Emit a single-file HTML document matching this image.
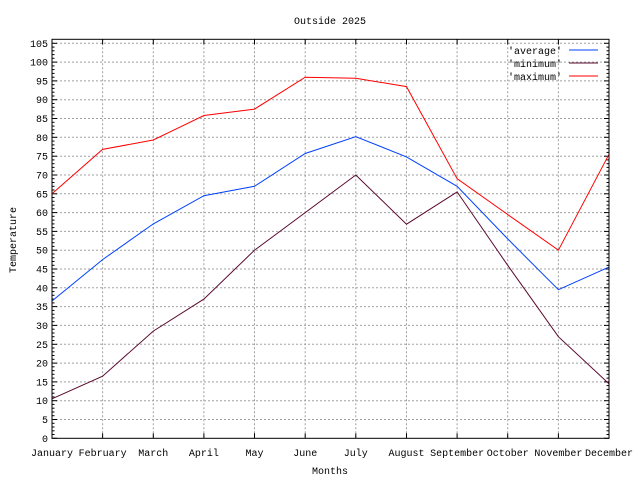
<!DOCTYPE html>
<html><head><meta charset="utf-8"><style>
body{margin:0;background:#fff;}
svg text{font-family:"Liberation Mono","DejaVu Sans Mono",monospace;font-size:10px;fill:#000;}
</style></head><body>
<svg width="640" height="480" xmlns="http://www.w3.org/2000/svg" id="s">
<rect width="640" height="480" fill="#fff"/>
<g id="g"></g>
<text x="330" y="24" text-anchor="middle">Outside 2025</text>
<text x="330" y="474" text-anchor="middle">Months</text>
<text transform="translate(16,240) rotate(-90)" text-anchor="middle">Temperature</text>
<text x="562" y="54" text-anchor="end">'average'</text>
<text x="562" y="67" text-anchor="end">'minimum'</text>
<text x="562" y="80" text-anchor="end">'maximum'</text>
<line x1="569" y1="50" x2="598" y2="50" stroke="#0040ff"/>
<line x1="569" y1="63" x2="598" y2="63" stroke="#5a0a30"/>
<line x1="569" y1="76" x2="598" y2="76" stroke="#ff0000"/>
</svg>
<script>
const L=52,R=609,B=438.3,T=39.3,u=(438.3-43.3)/105;
const X=i=>L+i*(R-L)/11, Y=v=>B-v*u;
const g=document.getElementById('g');let h='';
const months=["January","February","March","April","May","June","July","August","September","October","November","December"];
for(let v=0;v<=105;v+=5){const y=Y(v).toFixed(1);
 if(v>0&&v<105||v==105) h+=`<line x1="${L}" y1="${y}" x2="${R}" y2="${y}" stroke="#a0a0a0" stroke-dasharray="2,2"/>`;
 h+=`<line x1="${L}" y1="${y}" x2="${L+5}" y2="${y}" stroke="#000"/><line x1="${R-5}" y1="${y}" x2="${R}" y2="${y}" stroke="#000"/>`;
 h+=`<text x="${L-4}" y="${(+y+3.5).toFixed(1)}" text-anchor="end">${v}</text>`;}
for(let v=0;v<106;v++){if(v%5==0)continue;const y=Y(v).toFixed(1);
 h+=`<line x1="${L}" y1="${y}" x2="${L+2.5}" y2="${y}" stroke="#000"/><line x1="${R-2.5}" y1="${y}" x2="${R}" y2="${y}" stroke="#000"/>`;}
months.forEach((m,i)=>{const x=X(i).toFixed(1);
 if(i>0&&i<11) h+=`<line x1="${x}" y1="${T}" x2="${x}" y2="${B}" stroke="#a0a0a0" stroke-dasharray="2,2"/>`;
 h+=`<line x1="${x}" y1="${B}" x2="${x}" y2="${B-5}" stroke="#000"/><line x1="${x}" y1="${T}" x2="${x}" y2="${T+5}" stroke="#000"/>`;
 h+=`<text x="${x}" y="456" text-anchor="middle">${m}</text>`;});
const series=[
 ["#ff0000",[65,76.8,79.3,85.8,87.5,96,95.7,93.5,69,59.5,50,75.5]],
 ["#0040ff",[36.5,47.5,57,64.5,67,75.7,80.2,74.8,67,53,39.5,45.5]],
 ["#5a0a30",[10.5,16.5,28.5,37,50,60,70,56.9,65.5,46,27,14.5]]];
series.forEach(([c,d])=>{h+=`<polyline fill="none" stroke="${c}" points="${d.map((v,i)=>X(i).toFixed(1)+','+Y(v).toFixed(1)).join(' ')}"/>`;});
h+=`<rect x="${L}" y="${T}" width="${R-L}" height="${B-T}" fill="none" stroke="#000"/>`;
g.innerHTML=h;
</script>
</body></html>
